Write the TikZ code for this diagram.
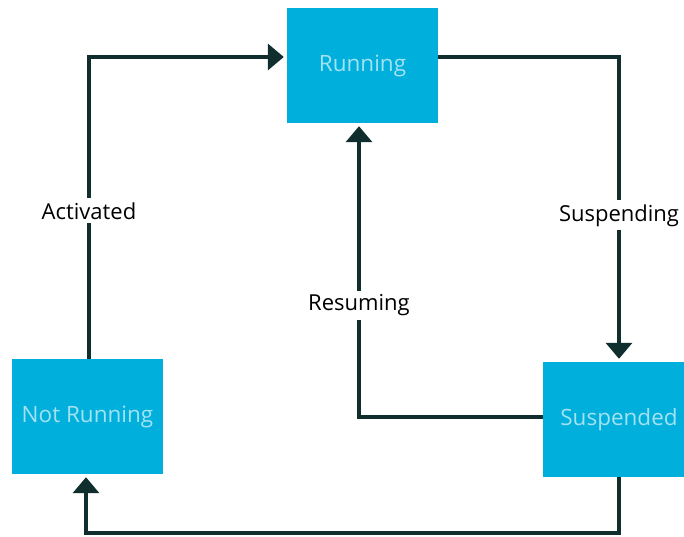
\documentclass[tikz,border=0pt]{standalone}
\usepackage{fontspec}
\setmainfont{Open Sans}
\usetikzlibrary{arrows.meta,calc}
\definecolor{boxfill}{HTML}{00AFDC}
\definecolor{boxtext}{HTML}{A3E2F2}
\definecolor{linec}{HTML}{102E2E}
\tikzset{
  state/.style={draw=none,fill=boxfill,text=boxtext,minimum width=#1,minimum height=115pt,inner sep=0pt,font=\fontsize{22.5}{26}\selectfont},
  conn/.style={draw=linec,line width=3.5pt,-{Triangle[width=26pt,length=16pt]},shorten >=3pt},
  lbl/.style={fill=white,text=black,inner sep=4pt,font=\fontsize{22}{26}\selectfont}
}
\begin{document}
\begin{tikzpicture}[x=1pt,y=-1pt]
\clip (0,0) rectangle (684,537);
\fill[white] (0,0) rectangle (684,537);
\node[state=151pt] (run) at (362.5,65.5) {Running};
\node[state=151pt] (nr) at (87.5,416.5) {Not Running};
\node[state=152pt] (sus) at (619,419.5) {Suspended};
\coordinate (c1) at (89,57);
\coordinate (c2) at (619,57);
\coordinate (c3) at (359,417);
\coordinate (c4) at (619,533);
\coordinate (c5) at (86,533);
\draw[conn] ([xshift=1.5pt]nr.north) -- node[lbl,pos=0.49] {Activated} (c1) -- ([yshift=8.5pt]run.west);
\draw[conn] ([yshift=8.5pt]run.east) -- (c2) -- node[lbl,pos=0.52] {Suspending} (sus.north);
\draw[conn] ([yshift=2.5pt]sus.west) -- (c3) -- node[lbl,pos=0.38] {Resuming} ([xshift=-3.5pt]run.south);
\draw[conn] (sus.south) -- (c4) -- (c5) -- ([xshift=-1.5pt]nr.south);
\end{tikzpicture}
\end{document}
